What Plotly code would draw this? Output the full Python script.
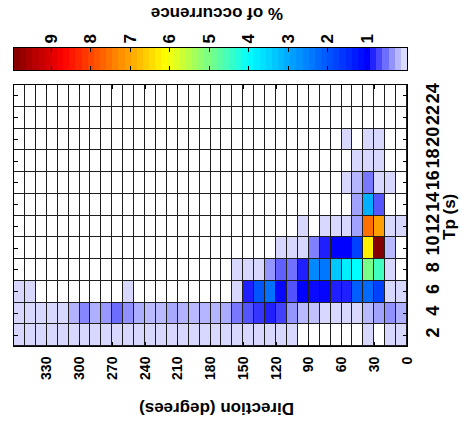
import plotly.graph_objects as go

# Direction bins (deg, centres of 10-degree bins) and Tp bins (s)
direction = [5 + 10 * i for i in range(36)]
tp = [2, 4, 6, 8, 10, 12, 14, 16, 18, 20, 22, 24]

# % of occurrence, one list per Tp row, columns ordered 0-10, 10-20, ... 350-360 deg (0 = empty)
occ_tp2 = [0.1, 0.1, 0, 0.1, 0, 0, 0, 0, 0, 0,
           0.1, 0.1, 0.1, 0.1, 0.1, 0.1, 0.1, 0.1, 0.1, 0.1,
           0.1, 0.1, 0.1, 0.1, 0.1, 0.1, 0.1, 0.1, 0.1, 0.1,
           0.1, 0.1, 0.1, 0.1, 0.1, 0.1]
occ_tp4 = [0.27, 0.4, 0.33, 0.23, 0.1, 0.1, 0.1, 0.1, 0.2, 0.23,
           0.38, 0.73, 0.87, 0.78, 0.65, 0.5, 0.29, 0.25, 0.25, 0.23,
           0.26, 0.3, 0.23, 0.23, 0.28, 0.4, 0.55, 0.37, 0.27, 0.44,
           0.26, 0.1, 0.1, 0.1, 0.1, 0.1]
occ_tp6 = [0.1, 0.1, 1.75, 2.25, 2.13, 0.87, 0.87, 0.98, 0.96, 1.0,
           0.66, 0.97, 2.32, 2.0, 0.87, 0.1, 0, 0, 0, 0,
           0, 0, 0, 0, 0, 0.1, 0, 0, 0, 0,
           0, 0, 0, 0, 0.1, 0.1]
occ_tp8 = [0, 0.1, 4.53, 4.99, 4.0, 3.8, 3.35, 2.4, 2.6, 0.87,
           0.53, 0.6, 0.38, 0.1, 0.1, 0.1, 0, 0, 0, 0,
           0, 0, 0, 0, 0, 0, 0, 0, 0, 0,
           0, 0, 0, 0, 0, 0]
occ_tp10 = [0, 0.23, 9.9, 6.26, 1.75, 1.0, 1.0, 0.87, 0.47, 0.1,
            0.1, 0.1, 0, 0, 0, 0, 0, 0, 0, 0,
            0, 0, 0, 0, 0, 0, 0, 0, 0, 0,
            0, 0, 0, 0, 0, 0]
occ_tp12 = [0.1, 0.1, 7.07, 7.56, 0.33, 0.1, 0.1, 0.1, 0, 0.1,
            0, 0, 0, 0, 0, 0, 0, 0, 0, 0,
            0, 0, 0, 0, 0, 0, 0, 0, 0, 0,
            0, 0, 0, 0, 0, 0]
occ_tp14 = [0, 0, 0.64, 3.07, 0.33, 0, 0, 0, 0, 0,
            0, 0, 0, 0, 0, 0, 0, 0, 0, 0,
            0, 0, 0, 0, 0, 0, 0, 0, 0, 0,
            0, 0, 0, 0, 0, 0]
occ_tp16 = [0, 0.1, 0.1, 0.5, 0.25, 0.1, 0, 0, 0, 0,
            0, 0, 0, 0, 0, 0, 0, 0, 0, 0,
            0, 0, 0, 0, 0, 0, 0, 0, 0, 0,
            0, 0, 0, 0, 0, 0]
occ_tp18 = [0, 0, 0.1, 0.1, 0.1, 0, 0, 0, 0, 0,
            0, 0, 0, 0, 0, 0, 0, 0, 0, 0,
            0, 0, 0, 0, 0, 0, 0, 0, 0, 0,
            0, 0, 0, 0, 0, 0]
occ_tp20 = [0, 0, 0.1, 0.1, 0, 0.1, 0, 0, 0, 0,
            0, 0, 0, 0, 0, 0, 0, 0, 0, 0,
            0, 0, 0, 0, 0, 0, 0, 0, 0, 0,
            0, 0, 0, 0, 0, 0]
occ_tp22 = [0] * 36
occ_tp24 = [0] * 36

rows = [occ_tp2, occ_tp4, occ_tp6, occ_tp8, occ_tp10, occ_tp12,
        occ_tp14, occ_tp16, occ_tp18, occ_tp20, occ_tp22, occ_tp24]

dir_ticks = list(range(0, 360, 30))
tp_ticks = tp
cbar_ticks = [1, 2, 3, 4, 5, 6, 7, 8, 9]
cmax = 9.94

z = [[(v if v > 0 else None) for v in r] for r in rows]
base = [[1 for _ in r] for r in rows]

colorscale = [
    [0.0, "rgb(228,228,255)"],
    [0.1 / cmax, "rgb(216,216,255)"],
    [1.0 / cmax, "rgb(0,0,255)"],
    [4.0 / cmax, "rgb(0,255,255)"],
    [6.1 / cmax, "rgb(255,255,0)"],
    [8.7 / cmax, "rgb(255,0,0)"],
    [1.0, "rgb(128,0,0)"],
]

# colour bar drawn as a strip of 64 levels
nlev = 64
cb_x = [(i + 0.5) * cmax / nlev for i in range(nlev)]
cb_z = [cb_x]

FONT = "Liberation Sans, Arial, sans-serif"

fig = go.Figure()
fig.add_trace(go.Heatmap(x=direction, y=tp, z=base, colorscale=[[0, "white"], [1, "white"]],
                         showscale=False, xgap=1, ygap=1, hoverinfo="skip"))
fig.add_trace(go.Heatmap(x=direction, y=tp, z=z, colorscale=colorscale, zmin=0, zmax=cmax,
                         showscale=False, xgap=1, ygap=1))
fig.add_trace(go.Heatmap(x=cb_x, y=[0.5], z=cb_z, colorscale=colorscale, zmin=0, zmax=cmax,
                         showscale=False, xaxis="x2", yaxis="y2", hoverinfo="skip"))

H = 426
t_m, b_m = 48, 80
ph = H - t_m - b_m
main_top = (346 - 85) / ph
cb_bot = (346 - 70) / ph

common = dict(tickmode="array", ticks="inside", ticklen=4, tickcolor="black", showline=True,
              linecolor="black", linewidth=1, showgrid=False, zeroline=False, automargin=False)

ann = dict(xref="paper", yref="paper", showarrow=False, xanchor="center", yanchor="middle")

fig.update_layout(
    width=468, height=426,
    margin=dict(l=14, r=61, t=t_m, b=b_m, autoexpand=False),
    paper_bgcolor="white", plot_bgcolor="#1e1e1e",
    font=dict(family=FONT, color="black"),
    showlegend=False,
    xaxis=dict(domain=[0, 1], anchor="y", range=[360, 0],
               tickvals=dir_ticks, ticktext=["<b>%d</b>" % v for v in dir_ticks], tickangle=-90,
               mirror="ticks", tickfont=dict(size=14, family=FONT, color="black"),
               ticklabelstandoff=4, **common),
    yaxis=dict(domain=[0, main_top], anchor="x", range=[1, 25], side="right",
               tickvals=tp_ticks, ticktext=["<b>%d</b>" % v for v in tp_ticks], tickangle=-90,
               mirror="ticks", tickfont=dict(size=18, family=FONT, color="black"),
               ticklabelstandoff=9, **common),
    xaxis2=dict(domain=[0, 1], anchor="y2", range=[cmax, 0], side="top",
                tickvals=cbar_ticks, ticktext=["<b>%d</b>" % v for v in cbar_ticks], tickangle=-90,
                mirror="ticks", tickfont=dict(size=17, family=FONT, color="black"),
                ticklabelstandoff=0, **common),
    yaxis2=dict(domain=[cb_bot, 1], anchor="x2", range=[0, 1], showticklabels=False,
                ticks="", showline=True, linecolor="black", linewidth=1, mirror=True,
                showgrid=False, zeroline=False, automargin=False),
    annotations=[
        dict(text="<b>% of occurrence</b>", x=(217 - 14) / 393, y=(346 - 14) / ph,
             textangle=180, font=dict(size=17, family=FONT), **ann),
        dict(text="<b>Direction (degrees)</b>", x=(217 - 14) / 393, y=(346 - 409) / ph,
             textangle=180, font=dict(size=17, family=FONT), **ann),
        dict(text="<b>Tp (s)</b>", x=(449 - 14) / 393, y=(346 - 217) / ph,
             textangle=-90, font=dict(size=17, family=FONT), **ann),
    ],
)

fig.write_html("out.html", config={"displayModeBar": False},
               post_script="document.body.style.margin='0';")
